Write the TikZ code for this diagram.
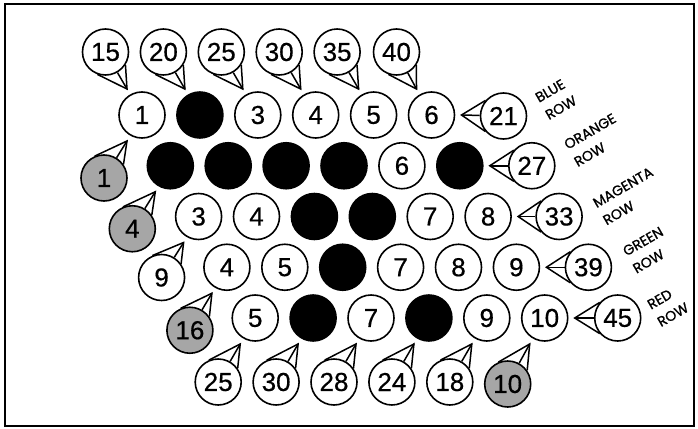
\documentclass[tikz,border=0pt]{standalone}
\usepackage{fontspec}
\setmainfont[FakeBold=0.5]{Liberation Sans}
\newfontfamily\labelfont[FakeBold=1]{Poppins}
\usetikzlibrary{calc}
\newcommand\gn[4]{\node[#3] (g#1#2) at ({142+28.3*#1+57.9*#2},{115+50.75*#1}) {#4};}
% #1 callout node, #2 tip, #3 #4 border angles of the tail base
\newcommand\tailto[4]{%
  \draw[tailline] (#1.#3) -- (#2) -- (#1.#4);
  \draw[tailline] (#2) -- (#1);}
% name, target, dx, dy, tip dx, tip dy, style, text, kind
\newcommand\callout[9]{%
  \node[#7] (#1) at ($(#2)+(#3,#4)$) {#8};
  \coordinate (#1t) at ($(#2)+(#5,#6)$);
  \ifcase#9\relax
    \tailto{#1}{#1t}{-33}{-110}\or
    \tailto{#1}{#1t}{35}{113}\or
    \tailto{#1}{#1t}{139}{221}\fi}
\begin{document}
\begin{tikzpicture}[x=1pt,y=-1pt,
  ball/.style={circle,draw,line width=1.6pt,minimum size=46pt,inner sep=0pt,font=\fontsize{26}{26}\selectfont},
  wb/.style={ball,fill=white},
  bb/.style={ball,fill=black},
  gb/.style={ball,fill=black!35},
  tailline/.style={line width=1.5pt,line join=miter},
  rowlabel/.style={font=\labelfont\fontsize{14}{20}\selectfont,rotate=30,inner sep=0pt,align=left}]
\useasboundingbox (0,0) rectangle (698,428);
\draw[line width=1.5pt] (5,4) rectangle (694,426);
% grid
\gn{0}{0}{wb}{1} \gn{0}{1}{bb}{} \gn{0}{2}{wb}{3} \gn{0}{3}{wb}{4} \gn{0}{4}{wb}{5} \gn{0}{5}{wb}{6}
\gn{1}{0}{bb}{} \gn{1}{1}{bb}{} \gn{1}{2}{bb}{} \gn{1}{3}{bb}{} \gn{1}{4}{wb}{6} \gn{1}{5}{bb}{}
\gn{2}{0}{wb}{3} \gn{2}{1}{wb}{4} \gn{2}{2}{bb}{} \gn{2}{3}{bb}{} \gn{2}{4}{wb}{7} \gn{2}{5}{wb}{8}
\gn{3}{0}{wb}{4} \gn{3}{1}{wb}{5} \gn{3}{2}{bb}{} \gn{3}{3}{wb}{7} \gn{3}{4}{wb}{8} \gn{3}{5}{wb}{9}
\gn{4}{0}{wb}{5} \gn{4}{1}{bb}{} \gn{4}{2}{wb}{7} \gn{4}{3}{bb}{} \gn{4}{4}{wb}{9} \gn{4}{5}{wb}{10}
% top callouts
\callout{t0}{g00}{-36.5}{-63}{-15}{-26}{wb}{15}{0}
\callout{t1}{g01}{-36.5}{-63}{-15}{-26}{wb}{20}{0}
\callout{t2}{g02}{-36.5}{-63}{-15}{-26}{wb}{25}{0}
\callout{t3}{g03}{-36.5}{-63}{-15}{-26}{wb}{30}{0}
\callout{t4}{g04}{-36.5}{-63}{-15}{-26}{wb}{35}{0}
\callout{t5}{g05}{-35}{-63}{-15}{-26}{wb}{40}{0}
% left callouts
\callout{l0}{g00}{-38}{63}{-15}{26}{gb}{1}{1}
\callout{l1}{g10}{-38}{63}{-15}{26}{gb}{4}{1}
\callout{l2}{g20}{-37}{61}{-15}{26}{wb}{9}{1}
\callout{l3}{g30}{-37}{63}{-15}{26}{gb}{16}{1}
% bottom callouts
\callout{b0}{g40}{-37}{64}{-15}{26}{wb}{25}{1}
\callout{b1}{g41}{-37}{64}{-15}{26}{wb}{30}{1}
\callout{b2}{g42}{-37}{64}{-15}{26}{wb}{28}{1}
\callout{b3}{g43}{-37}{64}{-15}{26}{wb}{24}{1}
\callout{b4}{g44}{-37}{64}{-15}{26}{wb}{18}{1}
\callout{b5}{g45}{-37}{66}{-15}{26}{gb}{10}{1}
% right callouts
\callout{r0}{g05}{72}{1}{30}{0}{wb}{21}{2}
\callout{r1}{g15}{72}{0}{30}{0}{wb}{27}{2}
\callout{r2}{g25}{71}{0}{30}{0}{wb}{33}{2}
\callout{r3}{g35}{72}{0}{30}{0}{wb}{39}{2}
\callout{r4}{g45}{73}{0}{30}{0}{wb}{45}{2}
% row labels
\node[rowlabel] (lb1) at (556,99) {BLUE\\ROW};
\node[rowlabel] (lb2) at (595,140) {ORANGE\\ROW};
\node[rowlabel] (lb3) at (628,196) {MAGENTA\\ROW};
\node[rowlabel] (lb4) at (648,250) {GREEN\\ROW};
\node[rowlabel] (lb5) at (668,306) {RED\\ROW};
\end{tikzpicture}
\end{document}
